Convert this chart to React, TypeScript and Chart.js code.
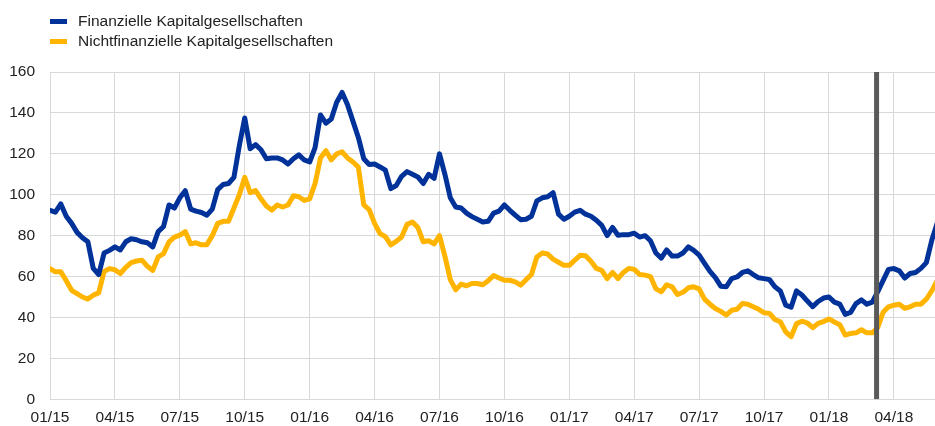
import React, { useEffect, useRef } from 'react';
import { Chart, registerables } from 'chart.js';

Chart.register(...registerables);

// Series names and colours
const seriesNames = ['Finanzielle Kapitalgesellschaften', 'Nichtfinanzielle Kapitalgesellschaften'];
const seriesColors = ['#003299', '#ffb400'];

// x axis: months since January 2015, one value every quarter month
const MONTHS_PER_POINT = 0.25;
const MONTHS_PER_TICK = 3;
const X_MAX_MONTHS = 40.9;
const EVENT_MONTH = 38.2;
const tickLabels = ['01/15', '04/15', '07/15', '10/15', '01/16', '04/16', '07/16', '10/16', '01/17', '04/17', '07/17', '10/17', '01/18', '04/18'];

// y axis
const Y_MIN = 0;
const Y_MAX = 160;
const Y_STEP = 20;

// Finanzielle Kapitalgesellschaften
const financial = [
  92.4, 91.5, 95.5, 89.5, 86, 81.6, 79, 77, 64, 61,
  71.5, 72.8, 74.5, 73, 77, 78.5, 78, 77, 76.5, 74.5,
  82, 84.5, 95, 93.5, 98.5, 102, 93, 92, 91.3, 90,
  93, 102.5, 105, 105.5, 108.5, 124, 137.5, 122.5, 124.5, 122,
  117.6, 118, 118, 117, 115, 117.6, 119.5, 117, 116, 123,
  139, 135, 137, 145.2, 150, 144, 136, 128, 117.6, 114.8,
  115, 113.6, 112, 103, 104.5, 109, 111.3, 110, 108.7, 105.5,
  110, 108, 120, 110, 98.5, 94, 93.5, 91, 89.3, 88,
  86.7, 87, 91, 92, 95, 92.4, 90, 87.8, 88, 89.5,
  97, 98.5, 99, 101, 90.5, 88, 89.5, 91.5, 92.4, 90.5,
  89.5, 87.5, 85, 80, 84, 80.2, 80.5, 80.5, 81.2, 79.3,
  80, 77.5, 71.5, 69, 73, 70, 70, 71.5, 74.5, 72.8,
  70.5, 66.5, 62.5, 59.5, 55.3, 55, 59, 59.8, 62, 62.8,
  61, 59.4, 59, 58.5, 55, 53, 46, 45, 53, 51,
  48, 45.3, 47.8, 49.5, 50, 47.5, 46.5, 41.5, 42.5, 46.8,
  48.6, 46.5, 47.5, 52.5, 58, 63.5, 63.9, 62.8, 59.3, 61.5,
  62, 64, 66.8, 77.7, 86,
];

// Nichtfinanzielle Kapitalgesellschaften
const nonFinancial = [
  63.9, 62.3, 62.3, 58, 53.3, 51.7, 50, 49, 50.9, 52,
  62.5, 63.9, 63.3, 61.5, 64.5, 66.8, 67.6, 68, 65, 63,
  69.6, 71.2, 77, 79.3, 80.2, 82, 76, 76.5, 75.5, 75.6,
  80, 86, 87, 87, 93.5, 100, 108.5, 101, 102, 98,
  94.5, 92.5, 95, 94, 95, 99.5, 99, 97.2, 98, 105.4,
  118, 121.5, 117, 120, 121, 118, 116, 113.5, 95, 92.7,
  86, 81, 79.5, 75.5, 77.2, 79.3, 85.5, 86.7, 84, 77,
  77.5, 76, 80, 70, 58.5, 53.5, 56.3, 55.5, 56.6, 56.6,
  56, 58, 60.5, 59.3, 58.2, 58.2, 57.4, 55.8, 58.5, 61,
  69.6, 71.5, 71, 68.5, 67, 65.5, 65.5, 68, 70.4, 70.2,
  67.5, 64, 63, 59, 62, 59, 62, 64, 63.5, 61,
  60.7, 60, 54, 52.6, 56, 55, 51.2, 52.3, 54.5, 55,
  54, 49, 46.5, 44.4, 43, 41.2, 43.5, 44, 46.8, 46.5,
  45.2, 44, 42.3, 42, 39, 37.9, 33, 30.6, 37, 38.2,
  37.3, 35, 37.1, 38, 39.3, 37.8, 36.5, 31.4, 32.2, 32.5,
  34, 32.5, 32.5, 35, 42.5, 45.2, 46, 46.5, 44.5, 45.2,
  46.5, 46.5, 49, 53, 58,
];

const FONT_FAMILY = "'Liberation Sans', Arial, Helvetica, sans-serif";
const FONT_SIZE = 15.5;
const TEXT_COLOR = '#222222';
const GRID_COLOR = '#d9d9d9';

const toPoints = (values: number[]) => values.map((v, i) => ({ x: i * MONTHS_PER_POINT, y: v }));

export default function App() {
  const canvasRef = useRef<HTMLCanvasElement | null>(null);

  useEffect(() => {
    const canvas = canvasRef.current;
    if (!canvas) return;
    const chart = new Chart(canvas, {
      type: 'line',
      data: {
        datasets: [
          {
            label: 'event',
            data: [
              { x: EVENT_MONTH, y: Y_MIN },
              { x: EVENT_MONTH, y: Y_MAX },
            ],
            borderColor: '#5a5a5a',
            borderWidth: 5,
            pointRadius: 0,
            borderCapStyle: 'butt',
          },
          {
            label: seriesNames[0],
            data: toPoints(financial),
            borderColor: seriesColors[0],
            backgroundColor: seriesColors[0],
            borderWidth: 5,
            pointRadius: 0,
            tension: 0,
            borderJoinStyle: 'round',
            borderCapStyle: 'round',
          },
          {
            label: seriesNames[1],
            data: toPoints(nonFinancial),
            borderColor: seriesColors[1],
            backgroundColor: seriesColors[1],
            borderWidth: 5,
            pointRadius: 0,
            tension: 0,
            borderJoinStyle: 'round',
            borderCapStyle: 'round',
          },
        ],
      },
      options: {
        responsive: false,
        animation: false,
        events: [],
        layout: { padding: { top: 72, right: 0, bottom: 0, left: 0 } },
        plugins: {
          legend: { display: false },
          tooltip: { enabled: false },
          title: { display: false },
        },
        scales: {
          x: {
            type: 'linear',
            min: 0,
            max: X_MAX_MONTHS,
            afterBuildTicks: (axis: any) => {
              axis.ticks = tickLabels.map((_, i) => ({ value: i * MONTHS_PER_TICK }));
            },
            afterFit: (axis: any) => {
              axis.height = 26.7;
            },
            grid: { color: GRID_COLOR, lineWidth: 1, drawTicks: false },
            border: { display: false },
            ticks: {
              autoSkip: false,
              maxRotation: 0,
              padding: 9,
              color: TEXT_COLOR,
              font: { family: FONT_FAMILY, size: FONT_SIZE },
              callback: (_v: any, i: number) => tickLabels[i],
            },
          },
          y: {
            type: 'linear',
            min: Y_MIN,
            max: Y_MAX,
            afterFit: (axis: any) => {
              axis.width = 50;
            },
            grid: { color: GRID_COLOR, lineWidth: 1, drawTicks: false },
            border: { display: false },
            ticks: {
              stepSize: Y_STEP,
              padding: 15,
              color: TEXT_COLOR,
              font: { family: FONT_FAMILY, size: FONT_SIZE },
            },
          },
        },
      },
    });
    return () => chart.destroy();
  }, []);

  const legendRow = (i: number, top: number) => (
    <div key={i} style={{ position: 'absolute', left: 50, top, height: 18, display: 'block' }}>
      <div
        style={{
          position: 'absolute',
          left: 0,
          top: 6.3,
          width: 17,
          height: 5.5,
          background: seriesColors[i],
        }}
      />
      <div
        style={{
          position: 'absolute',
          left: 28,
          top: 0,
          whiteSpace: 'nowrap',
          fontFamily: FONT_FAMILY,
          fontSize: FONT_SIZE,
          lineHeight: '18px',
          color: TEXT_COLOR,
        }}
      >
        {seriesNames[i]}
      </div>
    </div>
  );

  return (
    <div style={{ position: 'absolute', left: 0, top: 0, width: 935, height: 426, background: '#ffffff' }}>
      <canvas ref={canvasRef} width={935} height={426} style={{ position: 'absolute', left: 0, top: 0, width: 935, height: 426 }} />
      {legendRow(0, 12.3)}
      {legendRow(1, 32.3)}
    </div>
  );
}
